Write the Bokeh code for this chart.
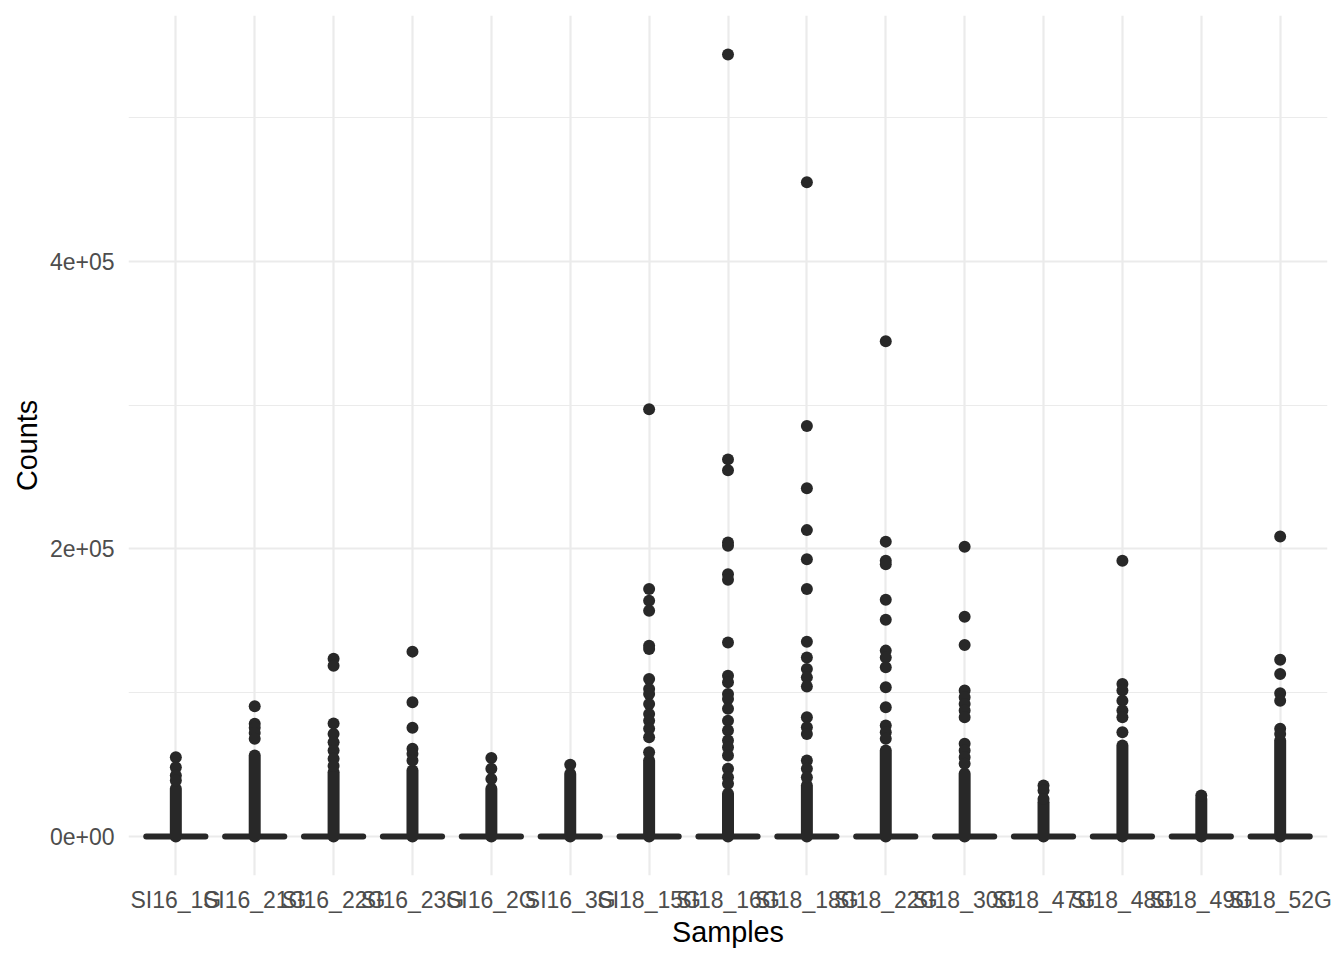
from bokeh.plotting import figure
from bokeh.models import ColumnDataSource, FactorRange, Range1d, FixedTicker
from bokeh.transform import dodge
from bokeh.embed import file_html
from bokeh.resources import INLINE

samples = ["SI16_1G", "SI16_21G", "SI16_22G", "SI16_23G", "SI16_2G", "SI16_3G",
           "SI18_15G", "SI18_16G", "SI18_18G", "SI18_22G", "SI18_30G", "SI18_47G",
           "SI18_48G", "SI18_49G", "SI18_52G"]

# box statistics (all quartiles collapse to zero)
q1 = [0] * 15
median = [0] * 15
q3 = [0] * 15

# top of the dense run of outliers starting at zero (per sample)
dense_bottom = [0] * 15
dense_top = [33100, 56200, 44700, 45800, 33100, 43500, 52800, 29600,
             35400, 59700, 43500, 23800, 63200, 26100, 66700]

# separately visible outliers per sample
out_SI16_1G = [55100, 48100, 42400, 38900]
out_SI16_21G = [90500, 78300, 75500, 72000, 67900]
out_SI16_22G = [123600, 118700, 78500, 71300, 65500, 59700, 54000, 49000]
out_SI16_23G = [128500, 93300, 75500, 60900, 57400, 52800]
out_SI16_2G = [54600, 47000, 40000]
out_SI16_3G = [49800]
out_SI18_15G = [297000, 172000, 163900, 156900, 132600, 130300, 109500, 102500,
                99000, 92100, 85200, 80500, 74800, 68900, 58500]
out_SI18_16G = [543700, 262200, 254600, 204400, 202100, 182400, 178500, 134900,
                111800, 107200, 99100, 95600, 88700, 80500, 73600, 66700, 62000,
                56200, 47000, 41200, 36600]
out_SI18_18G = [454900, 285400, 242100, 213000, 192800, 172000, 135400, 124500,
                116400, 110600, 104200, 82900, 75900, 71300, 52800, 47000, 41200]
out_SI18_22G = [344400, 205000, 191700, 189300, 164600, 150700, 129200, 124500,
                117600, 103700, 89800, 77100, 72500, 67900]
out_SI18_30G = [201400, 152800, 133100, 101400, 96700, 92100, 87500, 82900,
                64400, 59700, 55100, 50500]
out_SI18_47G = [35400, 31900, 26100]
out_SI18_48G = [191700, 106000, 101400, 94400, 87500, 82900, 72500]
out_SI18_49G = [28500]
out_SI18_52G = [208500, 122900, 113000, 99500, 94400, 74800, 71300]

outliers = [out_SI16_1G, out_SI16_21G, out_SI16_22G, out_SI16_23G, out_SI16_2G,
            out_SI16_3G, out_SI18_15G, out_SI18_16G, out_SI18_18G, out_SI18_22G,
            out_SI18_30G, out_SI18_47G, out_SI18_48G, out_SI18_49G, out_SI18_52G]

y_ticks = [0, 200000, 400000]
y_minor_ticks = [100000, 300000, 500000]
y_tick_labels = ["0e+00", "2e+05", "4e+05"]

ox, oy = [], []
for s, vals in zip(samples, outliers):
    for v in vals:
        ox.append(s)
        oy.append(v)

ymax = max(max(oy), max(dense_top))
pad = 0.05 * ymax

FONT = "Liberation Sans"
DARK = "#282828"

p = figure(width=1336, height=952, output_backend="svg", toolbar_location=None,
           x_range=FactorRange(factors=samples, range_padding=0.2 / 15,
                               range_padding_units="percent"),
           y_range=Range1d(-pad, ymax + pad),
           min_border_left=128, min_border_right=9, min_border_top=15,
           min_border_bottom=77)
p.outline_line_color = None
p.background_fill_color = "white"

box_src = ColumnDataSource(dict(sample=samples, q1=q1, median=median, q3=q3,
                                dense_bottom=dense_bottom, dense_top=dense_top))
out_src = ColumnDataSource(dict(sample=ox, value=oy))

# dense runs of overlapping outliers
p.segment(x0="sample", y0="dense_bottom", x1="sample", y1="dense_top",
          source=box_src, line_color=DARK, line_width=12, line_cap="round")
# individual outliers
p.scatter(x="sample", y="value", source=out_src, size=12,
          fill_color=DARK, line_color=DARK, line_width=0)
# collapsed boxes (q1 = median = q3 = 0)
p.segment(x0=dodge("sample", -0.375, range=p.x_range), y0="median",
          x1=dodge("sample", 0.375, range=p.x_range), y1="median",
          source=box_src, line_color=DARK, line_width=6, line_cap="round")

p.yaxis.ticker = FixedTicker(ticks=y_ticks, minor_ticks=y_minor_ticks)
p.yaxis.major_label_overrides = {t: l for t, l in zip(y_ticks, y_tick_labels)}

for ax in (p.xaxis, p.yaxis):
    ax.axis_line_color = None
    ax.major_tick_line_color = None
    ax.minor_tick_line_color = None
    ax.major_tick_out = 0
    ax.major_label_text_font = FONT
    ax.major_label_text_font_size = "23px"
    ax.major_label_text_color = "#4D4D4D"
    ax.axis_label_text_font = FONT
    ax.axis_label_text_font_size = "28.8px"
    ax.axis_label_text_font_style = "normal"
    ax.axis_label_text_color = "black"

p.xaxis.axis_label = "Samples"
p.yaxis.axis_label = "Counts"
p.xaxis.major_label_standoff = 11
p.xaxis.axis_label_standoff = 0
p.yaxis.major_label_standoff = 10
p.yaxis.axis_label_standoff = 4
p.xaxis.major_label_orientation = "horizontal"

p.xgrid.grid_line_color = "#EBEBEB"
p.xgrid.grid_line_width = 2.2
p.ygrid.grid_line_color = "#EBEBEB"
p.ygrid.grid_line_width = 2.2
p.ygrid.minor_grid_line_color = "#EBEBEB"
p.ygrid.minor_grid_line_width = 1.1

open("out.html", "w").write(file_html(p, INLINE))
